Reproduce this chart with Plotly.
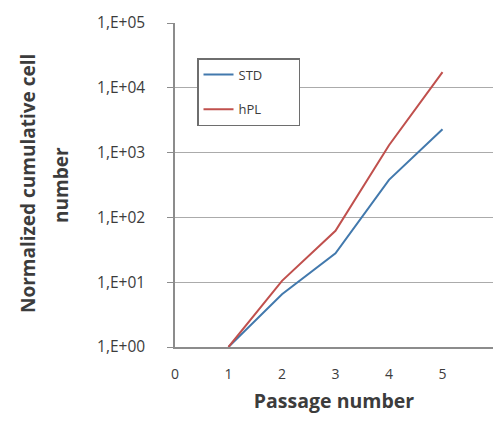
import plotly.graph_objects as go

passage = [1, 2, 3, 4, 5]
std_vals = [1, 6.5, 28, 380, 2300]
hpl_vals = [1, 10.5, 62, 1300, 17500]
series_names = ["STD", "hPL"]
ytick_vals = [1, 10, 100, 1000, 10000, 100000]
ytick_text = ["1,E+00", "1,E+01", "1,E+02", "1,E+03", "1,E+04", "1,E+05"]
xtick_vals = [0, 1, 2, 3, 4, 5, 6]

W, H = 493, 421
L, R, T, B = 175, 0, 23, 74
pw = W - L - R
ph = H - T - B

pad = "\u00a0" * 9  # widen the legend box like the Excel original

fig = go.Figure()
fig.add_trace(go.Scatter(x=passage, y=std_vals, mode="lines", name=series_names[0] + pad,
                         legendgroup="a", line=dict(color="#4279ad", width=2)))
fig.add_trace(go.Scatter(x=passage, y=hpl_vals, mode="lines", name=series_names[1] + pad,
                         legendgroup="b", line=dict(color="#c0504d", width=2)))

fam = "Open Sans, Liberation Sans, sans-serif"
txt = "#3c3c3c"

fig.update_layout(
    width=W, height=H,
    margin=dict(l=L, r=R, t=T, b=B),
    paper_bgcolor="white", plot_bgcolor="white",
    showlegend=True,
    legend=dict(x=(197 - L) / pw, y=(347 - 58) / ph, xanchor="left", yanchor="top",
                bordercolor="#6e6e6e", borderwidth=1.5, bgcolor="white",
                font=dict(family=fam, size=13, color=txt),
                tracegroupgap=15, itemwidth=30),
    xaxis=dict(range=[0, (W - L) / 53.5], tickvals=xtick_vals,
               tickfont=dict(family=fam, size=14, color=txt),
               showgrid=False, showline=True, linecolor="#8c8c8c", linewidth=1.5,
               ticks="", zeroline=False, ticklabelstandoff=13,
               title=dict(text="<b>Passage number</b>",
                          font=dict(family=fam, size=19.5, color=txt),
                          standoff=13)),
    yaxis=dict(type="log", range=[0, 5], tickvals=ytick_vals, ticktext=ytick_text,
               tickfont=dict(family=fam, size=15.5, color=txt),
               showgrid=True, gridcolor="#ababab", gridwidth=1,
               showline=True, linecolor="#8c8c8c", linewidth=1.5,
               ticks="outside", ticklen=6, tickcolor="#8c8c8c", ticklabelstandoff=19),
    annotations=[
        dict(text="<b>Normalized cumulative cell</b>",
             xref="paper", yref="paper", x=(28 - L) / pw, y=(347 - 184) / ph,
             xanchor="center", yanchor="middle", textangle=-90, showarrow=False,
             font=dict(family=fam, size=19, color=txt)),
        dict(text="<b>number</b>",
             xref="paper", yref="paper", x=(61 - L) / pw, y=(347 - 185) / ph,
             xanchor="center", yanchor="middle", textangle=-90, showarrow=False,
             font=dict(family=fam, size=19, color=txt)),
    ],
)

fig.write_html("out.html")
